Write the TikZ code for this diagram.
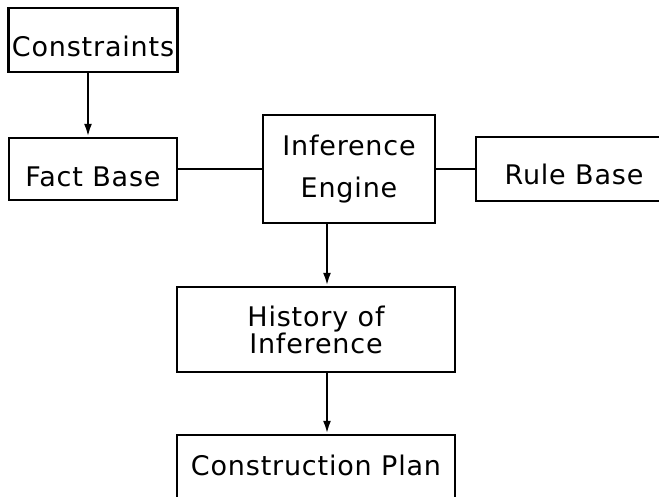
\documentclass[tikz,border=0pt]{standalone}
\usepackage{fontspec}
\setmainfont{DejaVu Sans}[LetterSpace=3]
\usetikzlibrary{arrows.meta}
\newcommand{\lowtext}[2]{\raisebox{#1}[0pt][0pt]{#2}}
\begin{document}
\begin{tikzpicture}[x=1pt,y=-1pt,
  box/.style={draw=black,line width=2.4pt,rectangle,inner sep=0pt,align=center,
    font=\fontsize{27}{27}\selectfont},
  conn/.style={line width=2.4pt},
  arr/.style={line width=2.4pt,-{Latex[length=13pt,width=8pt]}}]
\path[use as bounding box] (0,0) rectangle (659,497);
\clip (0,0) rectangle (659,497);
\node[box,minimum width=169pt,minimum height=64pt] (cons) at (93,40) {\lowtext{-17pt}{Constraints}};
\node[box,minimum width=168pt,minimum height=62pt] (fact) at (93,169) {\lowtext{-18pt}{Fact Base}};
\node[box,minimum width=172pt,minimum height=108pt,font=\fontsize{27}{42}\selectfont] (inf) at (349,169) {Inference\\Engine};
\node[box,minimum width=196pt,minimum height=64pt] (rule) at (574,169) {\lowtext{-16pt}{Rule Base}};
\node[box,minimum width=278pt,minimum height=85pt,font=\fontsize{27}{27}\selectfont] (hist) at (316,329.5) {History of\\Inference};
\node[box,minimum width=278pt,minimum height=70pt] (cplan) at (316,470) {\lowtext{-5pt}{Construction Plan}};
\draw[arr] ([xshift=-5pt]cons.south) -- ([xshift=-5pt]fact.north);
\draw[conn] (fact.east) -- (inf.west);
\draw[conn] (inf.east) -- (rule.west);
\draw[arr] ([xshift=-22pt]inf.south) -- ([xshift=11pt]hist.north);
\draw[arr] ([xshift=11pt]hist.south) -- ([xshift=11pt]cplan.north);
\end{tikzpicture}
\end{document}
